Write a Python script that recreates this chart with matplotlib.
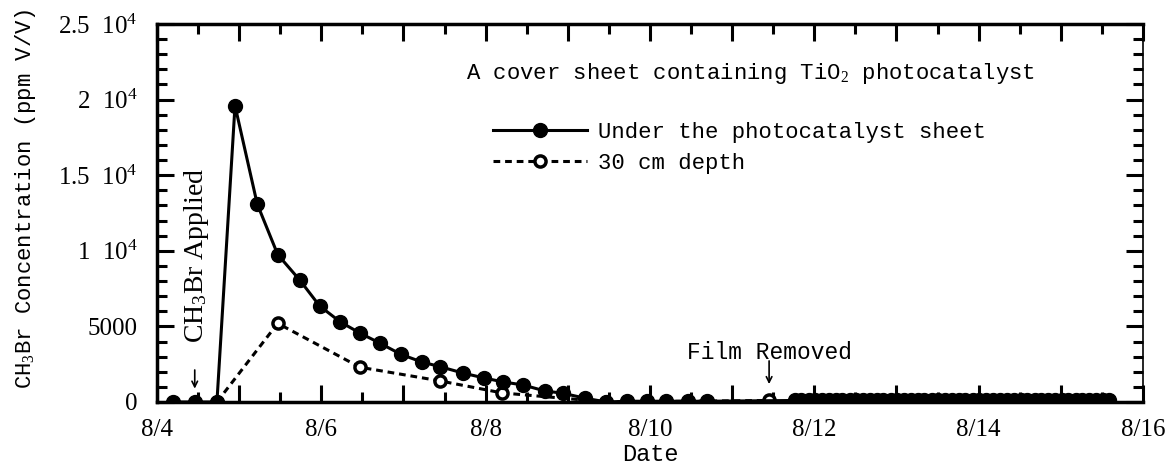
import numpy as np
import matplotlib
matplotlib.use('Agg')
import matplotlib.pyplot as plt
from matplotlib.ticker import MultipleLocator, FuncFormatter

plt.rcParams['mathtext.fontset'] = 'custom'
plt.rcParams['mathtext.rm'] = 'Liberation Serif'
plt.rcParams['mathtext.it'] = 'Liberation Serif:italic'

# time in days of August, concentration in ppm V/V
sheet_day = [4.20, 4.46, 4.73, 4.95, 5.22, 5.47, 5.74, 5.98, 6.23, 6.47, 6.71,
             6.97, 7.22, 7.45, 7.72, 7.98, 8.21, 8.46, 8.72, 8.94, 9.21, 9.47,
             9.72, 9.96, 10.20, 10.46, 10.70]
sheet_conc = [0, 0, 0, 19600, 13100, 9750, 8050, 6350, 5300, 4560, 3900,
              3150, 2650, 2330, 1920, 1590, 1330, 1120, 730, 580, 250, 0,
              50, 50, 50, 50, 50]

# readings after the film came off, every two hours
after_day = [11.76, 11.84, 11.93, 12.01, 12.09, 12.18, 12.26, 12.34, 12.43,
             12.51, 12.59, 12.68, 12.76, 12.84, 12.93, 13.01, 13.09, 13.18,
             13.26, 13.34, 13.43, 13.51, 13.59, 13.68, 13.76, 13.84, 13.93,
             14.01, 14.09, 14.18, 14.26, 14.34, 14.43, 14.51, 14.59, 14.68,
             14.76, 14.84, 14.93, 15.01, 15.09, 15.18, 15.26, 15.34, 15.43,
             15.51, 15.59]
after_conc = [100, 100, 100, 100, 100, 100, 100, 100, 100,
              100, 100, 100, 100, 100, 100, 100, 100, 100,
              100, 100, 100, 100, 100, 100, 100, 100, 100,
              100, 100, 100, 100, 100, 100, 100, 100, 100,
              100, 100, 100, 100, 100, 100, 100, 100, 100,
              100, 100]

depth_day = [4.73, 5.47, 6.47, 7.44, 8.20, 9.47, 11.45]
depth_conc = [0, 5200, 2300, 1400, 600, 0, 100]

x0 = 4.0  # 8/4 sits at the left edge
sx = np.array(sheet_day + after_day) - x0
sy = np.array(sheet_conc + after_conc)
dx = np.array(depth_day) - x0
dy = np.array(depth_conc)

mono = 'Liberation Mono'
serif = 'Liberation Serif'

fig = plt.figure(figsize=(11.73, 4.75), dpi=100)
ax = fig.add_axes([0.1338, 0.1537, 0.8406, 0.7958])

ax.plot(dx, dy, linestyle=(0, (2.2, 1.6)), color='black', lw=2.2,
        marker='o', markersize=8, markerfacecolor='white',
        markeredgecolor='black', markeredgewidth=2.5,
        label='30 cm depth', zorder=2)
ax.plot(sx, sy, '-', color='black', lw=2.2, marker='o', markersize=10,
        markerfacecolor='black', markeredgecolor='black',
        label='Under the photocatalyst sheet', zorder=3)

ax.set_xlim(0, 12)
ax.set_ylim(0, 25000)

ax.xaxis.set_major_locator(MultipleLocator(1))
ax.xaxis.set_minor_locator(MultipleLocator(0.5))
ax.xaxis.set_major_formatter(FuncFormatter(
    lambda v, p: '8/%d' % (v + x0) if int(round(v)) % 2 == 0 else ''))
ax.yaxis.set_major_locator(MultipleLocator(5000))
ax.yaxis.set_minor_locator(MultipleLocator(1000))

ylabels = {0: '0', 5000: '5000', 10000: '1  10$^4$', 15000: '1.5  10$^4$',
           20000: '2  10$^4$', 25000: '2.5  10$^4$'}
ax.yaxis.set_major_formatter(FuncFormatter(
    lambda v, p: ylabels.get(int(round(v)), '')))

ax.tick_params(which='both', direction='in', top=True, right=True, width=2.2)
ax.tick_params(which='major', length=12, labelsize=18, pad=12)
ax.tick_params(which='minor', length=7)
ax.tick_params(axis='y', which='major', pad=14)
for lab in ax.get_xticklabels() + ax.get_yticklabels():
    lab.set_fontfamily(serif)

for side in ['top', 'left', 'bottom']:
    ax.spines[side].set_linewidth(2.5)
ax.spines['right'].set_linewidth(1.2)

ax.set_xlabel('Date', fontfamily=mono, fontsize=17, labelpad=2)
ax.set_ylabel('CH$_3$Br Concentration (ppm V/V)', fontfamily=mono,
              fontsize=16)
ax.yaxis.set_label_coords(-0.121, 0.537)

ax.text(0.313, 0.87, 'A cover sheet containing TiO$_2$ photocatalyst',
        transform=ax.transAxes, fontfamily=mono, fontsize=16,
        ha='left', va='center')

leg = ax.legend(handles=ax.get_lines()[::-1], loc='upper left',
                bbox_to_anchor=(0.33, 0.77), frameon=False,
                prop={'family': mono, 'size': 16}, handlelength=4.2,
                handletextpad=0.5, labelspacing=0.45, borderpad=0)

# application and removal markers
ax.text(0.48, 9700, 'CH$_3$Br Applied', rotation=90, fontfamily=serif,
        fontsize=20, ha='center', va='center')
ax.annotate('', xy=(0.46, 700), xytext=(0.46, 2300),
            arrowprops=dict(arrowstyle='->', color='black', lw=1.2))
ax.text(7.45, 3300, 'Film Removed', fontfamily=mono, fontsize=16.5,
        ha='center', va='center')
ax.annotate('', xy=(7.45, 1000), xytext=(7.45, 2900),
            arrowprops=dict(arrowstyle='->', color='black', lw=1.2))

fig.savefig('out.png', dpi=100)
